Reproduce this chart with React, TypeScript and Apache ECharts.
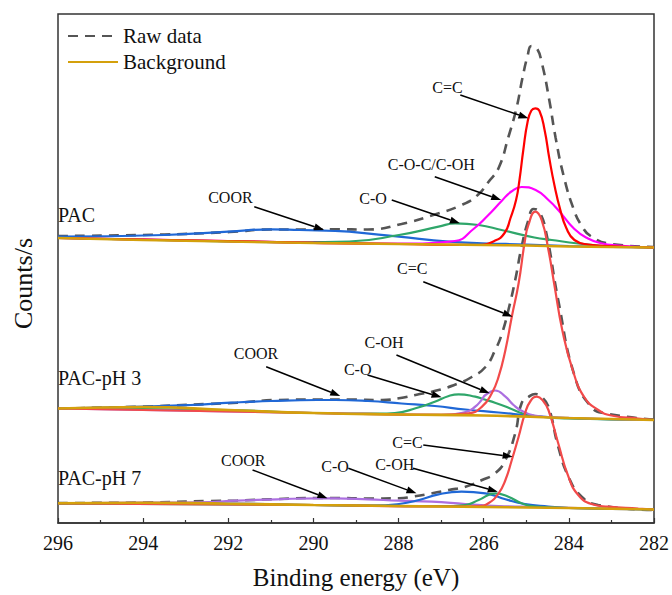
import { useEffect, useRef } from "react";
import * as echarts from "echarts";

type Pt = [number, number];

// Binding-energy axis ticks (eV), drawn high to low
const X_TICKS = [296, 294, 292, 290, 288, 286, 284, 282];
// Stacked-intensity range (arbitrary offset counts)
const Y_RANGE = [0, 509];

// ---------- PAC ----------
const pacRaw: Pt[] = [[296,287],[293.49,288.5],[291.97,291],[291.01,293.5],[290.33,293.5],[289.49,293.7],[288.72,293.5],[287.93,299],[287.15,308.5],[286.52,318],[286.14,328],[285.89,341],[285.65,355],[285.42,386],[285.23,415],[285.09,445],[284.97,467],[284.88,477],[284.76,475],[284.64,461],[284.46,423],[284.31,385],[284.11,345],[283.88,313],[283.71,298],[283.49,287],[283.0,279],[282,276]];
const pacBackground: Pt[] = [[296,285],[294,283],[292,281.5],[290,280],[288,279],[286,278],[285,277.5],[284,276.5],[282,275.5]];
const pacCOOR: Pt[] = [[296,286.3],[293.5,288],[292,291.3],[291,293.7],[290.33,293],[289.49,292],[289.16,291.3],[287.99,286.3],[286.82,281.3],[286.04,279.7],[285,278.5],[284,277],[283,276],[282,275.5]];
const pacCO: Pt[] = [[296,285],[292,281.6],[290.33,280.8],[289.16,281.5],[287.99,288],[287.06,296.3],[286.67,299.7],[286.12,298],[285.58,293],[284.81,285.5],[284.4,283],[283.78,279.5],[283.31,277.5],[282.5,276],[282,275.5]];
const pacCOC: Pt[] = [[296,285],[290,280.2],[288,279.3],[286.68,282],[286.24,294],[285.89,308],[285.58,322],[285.35,331.5],[285.11,336],[284.78,333],[284.48,323],[284.25,313],[283.87,294],[283.55,284.5],[283.24,279.7],[282.84,277.5],[282,275.5]];
const pacCC: Pt[] = [[296,285],[290,280.2],[288,279],[286.12,278],[285.75,282],[285.51,290],[285.37,305],[285.24,323],[285.16,343],[285.07,373],[284.97,401],[284.88,412.5],[284.79,414.7],[284.69,412],[284.57,393],[284.46,365],[284.34,338],[284.2,313],[284.06,295],[283.87,283],[283.55,278.5],[283.08,277],[282,275.5]];

// ---------- PAC-pH 3 ----------
const ph3Raw: Pt[] = [[296,114.5],[293.96,116.5],[292.49,119],[291.79,120.3],[290.85,123],[289.91,123.5],[289.16,123.5],[288.39,123],[287.99,124.7],[287.6,128],[287.06,133],[286.59,139.7],[286.28,146],[285.96,156],[285.73,173],[285.57,189.7],[285.42,213],[285.26,243],[285.11,276.3],[284.95,303],[284.83,314],[284.69,311],[284.53,290],[284.25,223],[283.86,146.3],[283.48,116.3],[283.15,109.7],[282,103.5]];
const ph3Background: Pt[] = [[296,114.5],[294,116],[292,113],[290,110],[288,108.5],[286,107.5],[284,105],[282,103]];
const ph3COOR: Pt[] = [[296,114.5],[293.97,116.3],[292.89,118],[291.94,120.3],[291.0,122],[289.91,123],[289.49,123],[288.72,122],[287.93,119.5],[287.15,117],[286.43,113.5],[285.65,110.5],[284.81,107],[283.78,104.5],[282,103]];
const ph3CO: Pt[] = [[296,114.5],[292,113],[290,110],[288.46,109.5],[288.09,110],[287.6,114.7],[287.15,121.3],[286.82,127],[286.59,128.7],[286.2,126.3],[285.98,123.5],[285.72,120],[285.43,115.5],[285.04,109],[284.6,106],[284.01,104.5],[282,103]];
const ph3COH: Pt[] = [[296,114.5],[290,110],[287,108.2],[286.43,111],[286.21,116],[286.05,123],[285.96,128],[285.73,132.5],[285.49,126.3],[285.3,118],[285.12,112.5],[284.81,107.5],[284.25,105.5],[282,103]];
const ph3CC: Pt[] = [[296,114.5],[290,110],[287,108.2],[286.35,109.7],[286.04,116.3],[285.81,129.7],[285.65,146.3],[285.49,173],[285.34,206.3],[285.18,239.7],[285.03,283],[284.95,298],[284.79,311.3],[284.64,303],[284.48,273],[284.34,238],[284.15,192],[283.91,153],[283.64,126],[283.31,113],[283.0,107.5],[282.37,104.5],[282,103]];

// ---------- PAC-pH 7 ----------
const ph7Raw: Pt[] = [[296,20],[293.96,20.5],[292.42,22],[291.79,22.5],[290.85,24],[289.91,25],[289.49,25],[288.72,24.5],[287.99,24.7],[287.68,26.3],[287.21,29.7],[286.82,33],[286.43,36.3],[286.04,43],[285.73,49.7],[285.49,63],[285.26,89.7],[285.11,119.7],[284.95,126],[284.79,129],[284.64,126],[284.48,116.3],[284.25,76.3],[284.01,46.3],[283.7,26.3],[283.31,18],[282,13]];
const ph7Background: Pt[] = [[296,19.7],[294,20.3],[292,19.3],[290,18],[288,17],[286,16],[284,15],[282,13.5]];
const ph7COOR: Pt[] = [[296,19.7],[294,20.3],[292.72,20.7],[291.79,22.3],[290.85,23.7],[289.91,24.7],[289.49,24.7],[288.72,23.7],[287.99,22.3],[287.22,21.3],[286.43,19],[285.65,17],[284.71,16],[283.31,14.5],[282,13.5]];
const ph7CO: Pt[] = [[296,19.7],[292,19.3],[290,18],[288.6,17.3],[287.99,19],[287.52,23],[287.06,28.7],[286.52,31.3],[285.96,29.7],[285.49,23.7],[285.03,19],[284.48,16.5],[284,15],[282,13.5]];
const ph7COH: Pt[] = [[296,19.7],[290,18],[287,16.8],[286.43,18],[286.12,23],[285.73,29.7],[285.42,26.3],[285.11,19.7],[284.79,16.3],[284,15],[282,13.5]];
const ph7CC: Pt[] = [[296,19.7],[290,18],[287,16.5],[286.12,17],[285.89,19.7],[285.65,29.7],[285.49,43],[285.34,63],[285.18,86.3],[285.03,109.7],[284.9,122],[284.75,126.3],[284.62,123],[284.48,113],[284.25,79.7],[284.01,46.3],[283.78,28],[283.47,19],[283.08,16.3],[282.37,14.5],[282,13.5]];

// Peak-assignment callouts: label centre, arrow tail, arrow head (data units)
const notes: { text: string; at: Pt; from: Pt; to: Pt }[] = [
  { text: "C=C", at: [286.85, 436], from: [286.55, 428], to: [284.95, 404.7] },
  { text: "C-O-C/C-OH", at: [287.23, 358.3], from: [287.15, 346.3], to: [285.59, 323] },
  { text: "C-O", at: [288.6, 324.5], from: [288.16, 323], to: [286.56, 299.7] },
  { text: "COOR", at: [291.95, 326], from: [291.39, 316.3], to: [289.75, 293] },
  { text: "C=C", at: [287.68, 254.7], from: [287.42, 241.3], to: [285.32, 206.3] },
  { text: "C-OH", at: [288.34, 180.5], from: [288.05, 168], to: [285.86, 129.7] },
  { text: "C-O", at: [288.96, 154], from: [288.73, 148], to: [286.99, 125.7] },
  { text: "COOR", at: [291.35, 169.5], from: [291.11, 156.3], to: [289.37, 127] },
  { text: "C=C", at: [287.79, 80.5], from: [287.42, 78], to: [285.32, 66.3] },
  { text: "C-OH", at: [288.09, 59], from: [287.66, 54.7], to: [285.67, 31.3] },
  { text: "C-O", at: [289.49, 57], from: [289.18, 54.7], to: [287.58, 29.7] },
  { text: "COOR", at: [291.65, 63], from: [291.43, 53], to: [289.67, 24.7] },
];

// Sample names, left-aligned on the axis
const sampleLabels: { text: string; at: Pt }[] = [
  { text: "PAC", at: [296, 308.5] },
  { text: "PAC-pH 3", at: [296, 145.5] },
  { text: "PAC-pH 7", at: [296, 45] },
];

const SERIF = "Liberation Serif";
const C = {
  raw: "#555555",
  bg: "#d4a00c",
  blue: "#2068d6",
  green: "#2fa66a",
  magenta: "#ff00ff",
  red: "#ff0000",
  red2: "#f24a4a",
  purple: "#ac6fe0",
};

const curve = (name: string, data: Pt[], color: string, z: number, width = 2.2) => ({
  type: "line",
  name,
  data,
  symbol: "none",
  showSymbol: false,
  smooth: 0.5,
  silent: true,
  z,
  lineStyle: { color, width },
  itemStyle: { color },
});

const raw = (data: Pt[]) => ({
  ...curve("Raw data", data, C.raw, 2, 2.6),
  lineStyle: { color: C.raw, width: 2.6, type: [10, 7] },
});
const bg = (data: Pt[]) => curve("Background", data, C.bg, 5, 2.6);

const textStyle = (size: number, align: string) => ({
  fill: "#111",
  fontSize: size,
  fontFamily: SERIF,
  align,
  verticalAlign: "middle",
  textAlign: align,
  textVerticalAlign: "middle",
});

export default function App() {
  const ref = useRef<HTMLDivElement>(null);

  useEffect(() => {
    if (!ref.current) return;
    const chart = echarts.init(ref.current, undefined, { renderer: "svg" });

    const series = [
      raw(pacRaw), raw(ph3Raw), raw(ph7Raw),
      curve("COOR", pacCOOR, C.blue, 3),
      curve("C-O", pacCO, C.green, 3),
      curve("C-O-C/C-OH", pacCOC, C.magenta, 3),
      curve("C=C", pacCC, C.red, 4),
      curve("COOR", ph3COOR, C.blue, 3),
      curve("C-O", ph3CO, C.green, 3),
      curve("C-OH", ph3COH, C.purple, 3),
      curve("C=C", ph3CC, C.red2, 4),
      curve("COOR", ph7COOR, C.purple, 3),
      curve("C-O", ph7CO, C.blue, 3),
      curve("C-OH", ph7COH, C.green, 3),
      curve("C=C", ph7CC, C.red2, 4),
      bg(pacBackground), bg(ph3Background), bg(ph7Background),
    ];

    chart.setOption({
      animation: false,
      grid: {
        left: 58, right: 16, top: 14, bottom: 72,
        show: true, borderColor: "#333", borderWidth: 1.5, backgroundColor: "transparent",
      },
      legend: {
        data: ["Raw data", "Background"],
        orient: "vertical",
        left: 62,
        top: 18,
        itemWidth: 50,
        itemHeight: 14,
        itemGap: 0,
        selectedMode: false,
        itemStyle: { opacity: 0 },
        textStyle: { fontFamily: SERIF, fontSize: 21, color: "#111", lineHeight: 26 },
      },
      xAxis: {
        type: "value",
        inverse: true,
        min: Math.min(...X_TICKS),
        max: Math.max(...X_TICKS),
        interval: 2,
        name: "Binding energy (eV)",
        nameLocation: "middle",
        nameGap: 42,
        nameTextStyle: { fontFamily: SERIF, fontSize: 25, color: "#111" },
        axisLine: { show: true, lineStyle: { color: "#333", width: 1.5 } },
        axisTick: { show: true, inside: true, length: 5, lineStyle: { color: "#333", width: 1.2 } },
        minorTick: { show: true, splitNumber: 2, length: 3, lineStyle: { color: "#333", width: 1.2 } },
        axisLabel: { fontFamily: SERIF, fontSize: 20, color: "#111", margin: 10 },
        splitLine: { show: false },
      },
      yAxis: {
        type: "value",
        min: Y_RANGE[0],
        max: Y_RANGE[1],
        axisLine: { show: false },
        axisTick: { show: false },
        axisLabel: { show: false },
        splitLine: { show: false },
      },
      series,
    });

    const px = (p: Pt) => chart.convertToPixel({ gridIndex: 0 }, p) as number[];
    const graphics: any[] = [];

    notes.forEach((n) => {
      const [tx, ty] = px(n.at);
      graphics.push({
        type: "text", x: tx, y: ty, silent: true, z: 20,
        style: { text: n.text, ...textStyle(16, "center") },
      });
      const [x1, y1] = px(n.from);
      const [x2, y2] = px(n.to);
      const dx = x2 - x1, dy = y2 - y1;
      const len = Math.hypot(dx, dy) || 1;
      const ux = dx / len, uy = dy / len;
      const hl = 10, hw = 3.5;
      const bx = x2 - ux * hl, by = y2 - uy * hl;
      graphics.push({
        type: "line", silent: true, z: 20,
        shape: { x1, y1, x2: bx, y2: by },
        style: { stroke: "#000", lineWidth: 1.5 },
      });
      graphics.push({
        type: "polygon", silent: true, z: 20,
        shape: { points: [[x2, y2], [bx - uy * hw, by + ux * hw], [bx + uy * hw, by - ux * hw]] },
        style: { fill: "#000" },
      });
    });

    sampleLabels.forEach((s) => {
      const [tx, ty] = px(s.at);
      graphics.push({
        type: "text", x: tx, y: ty, silent: true, z: 20,
        style: { text: s.text, ...textStyle(20, "left") },
      });
    });

    // vertical axis title
    const [, yTop] = px([296, Y_RANGE[1]]);
    const [, yBot] = px([296, Y_RANGE[0]]);
    graphics.push({
      type: "text", x: 23, y: (yTop + yBot) / 2 + 15, rotation: Math.PI / 2, silent: true,
      style: { text: "Counts/s", ...textStyle(26, "center") },
    });

    chart.setOption({ graphic: graphics });

    return () => chart.dispose();
  }, []);

  return (
    <div
      ref={ref}
      style={{ position: "fixed", left: 0, top: 0, width: 672, height: 595, background: "#fff" }}
    />
  );
}
